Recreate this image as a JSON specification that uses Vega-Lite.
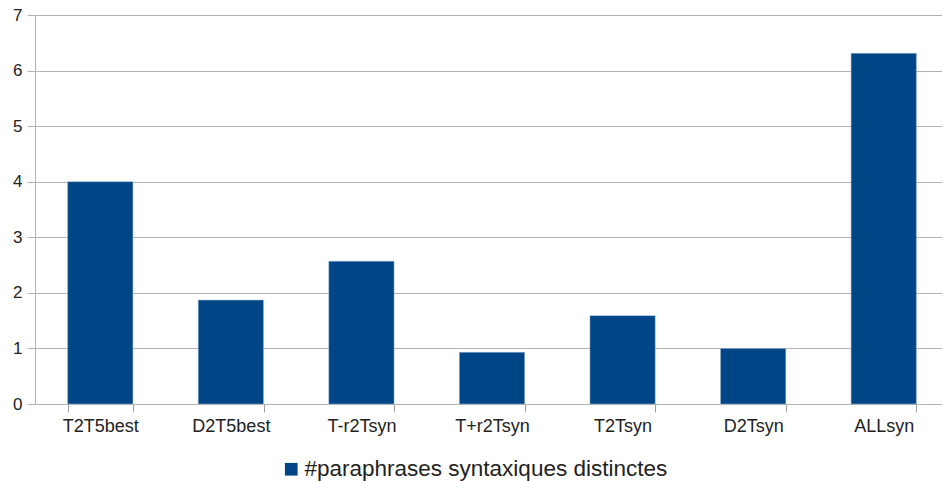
{
  "$schema": "https://vega.github.io/schema/vega-lite/v6.json",
  "autosize": "none",
  "width": 914,
  "height": 389,
  "padding": {"left": 35, "top": 15, "right": 0, "bottom": 77},
  "background": "white",
  "config": {
    "view": {"stroke": null},
    "font": "Liberation Sans",
    "axis": {"labelFont": "Liberation Sans", "labelColor": "#222222", "domainColor": "#b3b3b3", "tickColor": "#b3b3b3", "gridColor": "#b3b3b3"}
  },
  "data": {
    "values": [
      {"cat": "T2T5best", "v": 4.0},
      {"cat": "D2T5best", "v": 1.87},
      {"cat": "T-r2Tsyn", "v": 2.57},
      {"cat": "T+r2Tsyn", "v": 0.93},
      {"cat": "T2Tsyn", "v": 1.59},
      {"cat": "D2Tsyn", "v": 1.0},
      {"cat": "ALLsyn", "v": 6.31}
    ]
  },
  "mark": {"type": "bar", "stroke": "#9db8d6", "strokeWidth": 0.5},
  "encoding": {
    "x": {
      "field": "cat", "type": "nominal", "sort": null, "title": null,
      "scale": {"paddingInner": 0.5, "paddingOuter": 0.25},
      "axis": {"labelAngle": 0, "labelFontSize": 18, "labelPadding": 5, "ticks": true, "tickSize": 8, "tickBand": "extent", "tickColor": "#a0a0a0", "tickWidth": 1, "tickOpacity": 1, "domain": false, "grid": false}
    },
    "y": {
      "field": "v", "type": "quantitative", "title": null,
      "scale": {"domain": [0, 7], "nice": false},
      "axis": {"values": [0, 1, 2, 3, 4, 5, 6, 7], "labelFontSize": 17, "labelPadding": 5, "tickSize": 8, "grid": true, "domain": true}
    },
    "color": {
      "datum": "#paraphrases syntaxiques distinctes",
      "scale": {"range": ["#004586"]},
      "legend": {"title": null, "orient": "none", "legendX": 245, "legendY": 443, "labelFontSize": 22.5, "labelFont": "Liberation Sans", "labelColor": "#222222", "labelLimit": 0, "symbolType": "square", "symbolSize": 161, "symbolStrokeWidth": 0, "labelOffset": 2}
    }
  }
}
